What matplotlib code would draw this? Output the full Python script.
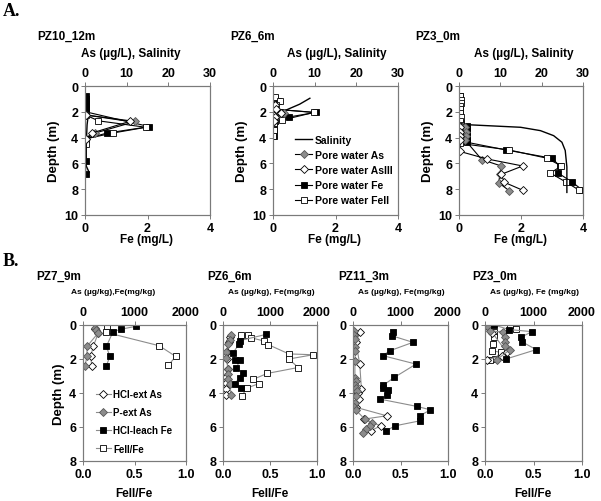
import matplotlib
matplotlib.use("Agg")
import matplotlib.pyplot as plt

plt.rcParams['font.family'] = ['Liberation Sans', 'DejaVu Sans']
plt.rcParams['font.weight'] = 'bold'
plt.rcParams['axes.labelweight'] = 'bold'

# ---------------- Row A: pore water ----------------
# PZ10_12m
a1_fe_depth = [0.8, 1.0, 1.2, 1.4, 1.6, 1.8, 2.0, 3.15, 3.65, 4.1, 5.85, 6.8]
a1_fe = [0.02, 0.02, 0.02, 0.02, 0.02, 0.02, 0.02, 2.06, 0.7, 0.02, 0.02, 0.02]
a1_feii_depth = [2.25, 2.7, 3.2, 3.65, 4.1, 4.5]
a1_feii = [0.02, 0.43, 1.95, 0.88, 0.02, 0.02]
a1_as_depth = [2.25, 2.75, 3.65, 4.1]
a1_as = [0.3, 12.1, 2.4, 0.3]
a1_asiii = [0.2, 10.7, 1.6, 0.2]
a1_sal_depth = [2.2, 3.0, 4.5, 6.2, 6.7]
a1_sal = [0.8, 0.5, 0.3, 0.3, 1.0]

# PZ6_6m
a2_fe_depth = [0.9, 1.2, 1.5, 1.8, 2.05, 2.4, 2.7, 3.0, 3.4, 3.9]
a2_fe = [0.05, 0.15, 0.05, 0.05, 1.36, 0.52, 0.05, 0.03, 0.02, 0.02]
a2_feii_depth = [0.87, 1.18, 1.5, 1.8, 2.05, 2.65, 2.9, 3.4, 3.9]
a2_feii = [0.06, 0.23, 0.08, 0.05, 1.31, 0.28, 0.04, 0.02, 0.01]
a2_as_depth = [1.5, 1.8, 2.1, 2.4, 2.7]
a2_as = [0.5, 0.8, 2.6, 0.6, 0.3]
a2_asiii = [0.4, 0.6, 2.0, 0.4, 0.2]
a2_sal_depth = [0.95, 1.41, 1.8, 2.18, 2.5]
a2_sal = [8.85, 6.4, 3.6, 1.2, 0.3]

# PZ3_0m
a3_fe_depth = [0.8, 1.1, 1.4, 1.7, 2.0, 2.3, 2.6, 2.9, 3.1, 3.35, 3.6, 3.85, 4.1, 4.36,
               4.95, 5.6, 6.2, 6.75, 7.45, 8.05]
a3_fe = [0.02, 0.02, 0.02, 0.02, 0.02, 0.02, 0.02, 0.05, 0.25, 0.25, 0.25, 0.25, 0.25, 0.25,
         1.5, 3.0, 3.25, 3.2, 3.65, 3.97]
a3_feii_depth = [0.8, 1.05, 1.3, 1.55, 1.8, 2.1, 2.4, 2.7, 3.0, 3.3, 3.6, 3.9, 4.2, 4.45,
                 4.95, 5.6, 6.2, 6.75, 7.45, 8.05]
a3_feii = [0.03, 0.06, 0.05, 0.04, 0.03, 0.03, 0.05, 0.03, 0.05, 0.05, 0.04, 0.03, 0.03, 0.03,
           1.6, 2.84, 3.3, 2.95, 3.45, 3.86]
a3_as_depth = [3.2, 3.55, 3.87, 4.2, 5.7, 6.2, 6.85, 7.5, 8.13]
a3_as = [1.5, 1.6, 1.7, 1.5, 5.5, 10.2, 9.9, 9.6, 12.2]
a3_asiii_depth = [3.2, 3.55, 3.87, 4.2, 5.07, 5.65, 6.2, 6.85, 7.47, 8.08]
a3_asiii = [0.3, 0.3, 0.3, 0.3, 0.2, 6.7, 15.4, 10.2, 11.0, 15.4]
a3_sal_depth = [2.93, 3.0, 3.2, 3.46, 3.85, 4.36, 5.0, 6.28, 8.25]
a3_sal = [0.6, 2.0, 14.9, 19.7, 22.9, 24.9, 25.7, 26.1, 26.1]

# ---------------- Row B: sediment ----------------
# PZ7_9m
b1_hcl_as_depth = [0.25, 0.45, 1.25, 1.85, 2.4]
b1_hcl_as = [230, 300, 200, 150, 170]
b1_p_as_depth = [0.2, 0.3, 0.45, 1.25, 1.85, 2.4]
b1_p_as = [240, 260, 300, 80, 75, 40]
b1_fe_depth = [0.08, 0.24, 0.39, 1.25, 1.85, 2.4]
b1_fe = [1026, 747, 584, 455, 520, 455]
b1_feii_depth = [0.08, 0.43, 1.22, 1.85, 2.36]
b1_feii = [0.23, 0.22, 0.74, 0.9, 0.83]

# PZ6_6m
b2_hcl_as_depth = [0.7, 1.0, 1.6, 2.0, 2.6, 3.08, 3.4, 3.77, 4.13]
b2_hcl_as = [150, 120, 90, 90, 100, 71, 71, 71, 71]
b2_p_as_depth = [0.59, 0.86, 1.12, 1.61, 1.96, 2.6, 2.9, 3.18, 3.48, 4.13]
b2_p_as = [177, 142, 106, 71, 71, 106, 106, 106, 142, 177]
b2_fe_depth = [0.55, 0.92, 1.12, 1.65, 2.05, 2.05, 2.55, 2.8, 3.1, 3.45, 3.7]
b2_fe = [922, 355, 340, 213, 250, 360, 284, 426, 355, 248, 390]
b2_feii_depth = [0.6, 0.6, 0.75, 0.95, 1.15, 1.7, 1.75, 2.0, 2.5, 2.85, 3.2, 3.45, 3.7, 4.15]
b2_feii = [0.19, 0.27, 0.3, 0.44, 0.48, 0.7, 0.96, 0.7, 0.8, 0.47, 0.32, 0.38, 0.26, 0.2]

# PZ11_3m
b3_hcl_as_depth = [0.39, 1.0, 2.3, 3.77, 4.0, 4.36, 4.85, 5.34, 5.54, 5.93, 6.23]
b3_hcl_as = [156, 60, 142, 177, 110, 128, 71, 709, 227, 582, 369]
b3_p_as_depth = [0.35, 0.6, 0.85, 1.3, 1.5, 2.1, 3.1, 3.3, 3.5, 3.7, 3.9, 4.2, 4.6, 4.85, 5.0,
                 5.54, 5.74, 5.93, 6.13, 6.33]
b3_p_as = [30, 30, 40, 40, 50, 40, 40, 60, 50, 60, 80, 70, 40, 30, 60, 248, 390, 355, 284, 213]
b3_fe_depth = [0.39, 0.63, 1.02, 1.51, 1.8, 2.3, 3.08, 3.54, 3.7, 3.81, 4.13, 4.36, 4.79, 4.99,
               5.34, 5.64, 5.93, 6.23]
b3_fe = [837, 816, 1262, 780, 624, 1326, 872, 638, 638, 745, 723, 567, 1348, 1631, 1404, 1404,
         887, 695]

# PZ3_0m
b4_hcl_as_depth = [0.05, 0.45, 1.61, 1.8, 2.04]
b4_hcl_as = [34, 150, 448, 345, 48]
b4_p_as_depth = [0.14, 0.33, 0.43, 0.73, 0.98, 1.22, 1.45, 2.04]
b4_p_as = [69, 103, 379, 414, 414, 414, 517, 241]
b4_fe_depth = [0.0, 0.27, 0.39, 0.73, 0.98, 1.45, 2.0]
b4_fe = [186, 503, 966, 738, 759, 1055, 434]
b4_feii_depth = [0.0, 0.24, 0.43, 0.73, 1.12, 1.51, 1.61, 2.0, 2.05]
b4_feii = [0.26, 0.32, 0.09, 0.09, 0.08, 0.07, 0.16, 0.1, 0.05]

W, H = 601, 502
GRAY = '#8c8c8c'
SPINE = '#7a7a7a'

fig = plt.figure(figsize=(W / 100, H / 100), dpi=100)


def box(left, top, right, bottom):
    # pixel box -> figure fraction
    return [left / W, 1 - bottom / H, (right - left) / W, (bottom - top) / H]


def txt(x, y, s, size=8, **kw):
    fig.text(x / W, 1 - y / H, s, fontsize=size, fontweight='bold', **kw)


def style(ax, size=9):
    for sp in ax.spines.values():
        sp.set_color(SPINE)
        sp.set_linewidth(0.8)
    ax.tick_params(labelsize=size, length=3, width=0.7, color=SPINE, pad=2)


def pore_panel(rect, fe_d, fe, feii_d, feii, as_d, as_v, asiii_d, asiii, sal_d, sal):
    ax = fig.add_axes(rect)
    ax.set_xlim(0, 4)
    ax.set_ylim(10, 0)
    ax.set_xticks([0, 2, 4])
    ax.set_yticks([0, 2, 4, 6, 8, 10])
    ax.set_ylabel('Depth (m)', fontsize=9.5, labelpad=3)
    style(ax)
    hfe, = ax.plot(fe, fe_d, '-s', color='black', lw=0.8, ms=5, mfc='black',
                   mec='black', mew=0.6, label='Pore water Fe')
    hfeii, = ax.plot(feii, feii_d, '-s', color='black', lw=0.8, ms=5, mfc='white',
                     mec='black', mew=0.6, label='Pore water FeII')
    ax2 = ax.twiny()
    ax2.set_xlim(0, 30)
    ax2.set_xticks([0, 10, 20, 30])
    style(ax2)
    hsal, = ax2.plot(sal, sal_d, '-', color='black', lw=1.0, label='Salinity')
    has, = ax2.plot(as_v, as_d, '-D', color='black', lw=0.8, ms=4.2, mfc=GRAY,
                    mec='#555555', mew=0.6, label='Pore water As')
    hasiii, = ax2.plot(asiii, asiii_d, '-D', color='black', lw=0.8, ms=4.2, mfc='white',
                       mec='black', mew=0.6, label='Pore water AsIII')
    return ax, ax2, [hsal, has, hasiii, hfe, hfeii]


def sed_panel(rect, hcl_d, hcl, p_d, p_as, fe_d, fe, feii_d, feii, ylabel):
    ax = fig.add_axes(rect)
    ax.set_xlim(0, 1)
    ax.set_ylim(8, 0)
    ax.set_xticks([0, 0.5, 1.0])
    ax.set_xticklabels(['0.0', '0.5', '1.0'])
    ax.set_yticks([0, 2, 4, 6, 8])
    if ylabel:
        ax.set_ylabel('Depth (m)', fontsize=9.5, labelpad=3)
    style(ax)
    hfeii = None
    if feii is not None:
        hfeii, = ax.plot(feii, feii_d, '-s', color=GRAY, lw=0.8, ms=5, mfc='white',
                         mec='black', mew=0.6, label='FeII/Fe')
    ax2 = ax.twiny()
    ax2.set_xlim(0, 2000)
    ax2.set_xticks([0, 1000, 2000])
    style(ax2)
    hhcl, = ax2.plot(hcl, hcl_d, '-D', color=GRAY, lw=0.8, ms=4.2, mfc='white',
                     mec='black', mew=0.6, label='HCl-ext As')
    hp, = ax2.plot(p_as, p_d, '-D', color=GRAY, lw=0.8, ms=4.2, mfc=GRAY,
                   mec='#555555', mew=0.6, label='P-ext As')
    hfe, = ax2.plot(fe, fe_d, '-s', color=GRAY, lw=0.8, ms=5, mfc='black',
                    mec='black', mew=0.6, label='HCl-leach Fe')
    return ax, ax2, [hhcl, hp, hfe, hfeii]


# Row A
pore_panel(box(85, 87, 210, 216), a1_fe_depth, a1_fe, a1_feii_depth, a1_feii,
           a1_as_depth, a1_as, a1_as_depth, a1_asiii, a1_sal_depth, a1_sal)
ax, ax2, handles = pore_panel(box(273, 87, 398, 216), a2_fe_depth, a2_fe, a2_feii_depth,
                              a2_feii, a2_as_depth, a2_as, a2_as_depth, a2_asiii,
                              a2_sal_depth, a2_sal)
ax2.legend(handles=handles, loc='upper left', bbox_to_anchor=(0.12, 0.68), frameon=False,
           handlelength=1.6, handletextpad=0.3, labelspacing=0.5,
           borderpad=0.2, prop={'weight': 'bold', 'size': 7.5})
pore_panel(box(459, 87, 583, 216), a3_fe_depth, a3_fe, a3_feii_depth, a3_feii,
           a3_as_depth, a3_as, a3_asiii_depth, a3_asiii, a3_sal_depth, a3_sal)

# Row B
ax, ax2, handles = sed_panel(box(83, 326, 186, 462), b1_hcl_as_depth, b1_hcl_as,
                             b1_p_as_depth, b1_p_as, b1_fe_depth, b1_fe,
                             b1_feii_depth, b1_feii, True)
ax2.legend(handles=handles, loc='upper left', bbox_to_anchor=(0.06, 0.58), frameon=False,
           handlelength=1.5, handletextpad=0.3, labelspacing=0.85, borderpad=0.2,
           prop={'weight': 'bold', 'size': 7})
sed_panel(box(223, 326, 317, 462), b2_hcl_as_depth, b2_hcl_as, b2_p_as_depth, b2_p_as,
          b2_fe_depth, b2_fe, b2_feii_depth, b2_feii, False)
sed_panel(box(353, 326, 448, 462), b3_hcl_as_depth, b3_hcl_as, b3_p_as_depth, b3_p_as,
          b3_fe_depth, b3_fe, None, None, False)
sed_panel(box(485, 326, 582, 462), b4_hcl_as_depth, b4_hcl_as, b4_p_as_depth, b4_p_as,
          b4_fe_depth, b4_fe, b4_feii_depth, b4_feii, False)

# panel letters, titles and axis labels
fig.text(3 / W, 1 - 12 / H, 'A.', fontsize=13, fontweight='bold', family='Liberation Serif',
         va='center')
fig.text(3 / W, 1 - 262 / H, 'B.', fontsize=13, fontweight='bold', family='Liberation Serif',
         va='center')

for x, s in [(37, 'PZ10_12m'), (230, 'PZ6_6m'), (415, 'PZ3_0m')]:
    txt(x, 37, s, 8.5, va='center')
for x, s in [(131, 'As (\u00b5g/L), Salinity'), (337, 'As (\u00b5g/L), Salinity'),
             (524, 'As (\u00b5g/L), Salinity')]:
    txt(x, 54, s, 8.5, ha='center', va='center')
for x in [147, 335, 521]:
    txt(x, 240, 'Fe (mg/L)', 8.5, ha='center', va='center')

for x, s in [(36, 'PZ7_9m'), (207, 'PZ6_6m'), (338, 'PZ11_3m'), (472, 'PZ3_0m')]:
    txt(x, 277, s, 8.5, va='center')
for x, s in [(113, 'As (\u00b5g/kg),Fe(mg/kg)'), (271, 'As (\u00b5g/kg), Fe(mg/kg)'),
             (401, 'As (\u00b5g/kg), Fe(mg/kg)'), (535, 'As (\u00b5g/kg), Fe (mg/kg)')]:
    txt(x, 293, s, 6, ha='center', va='center')
for x in [134, 270, 533]:
    txt(x, 494, 'FeII/Fe', 8.5, ha='center', va='center')

fig.savefig('out.png', dpi=100)
